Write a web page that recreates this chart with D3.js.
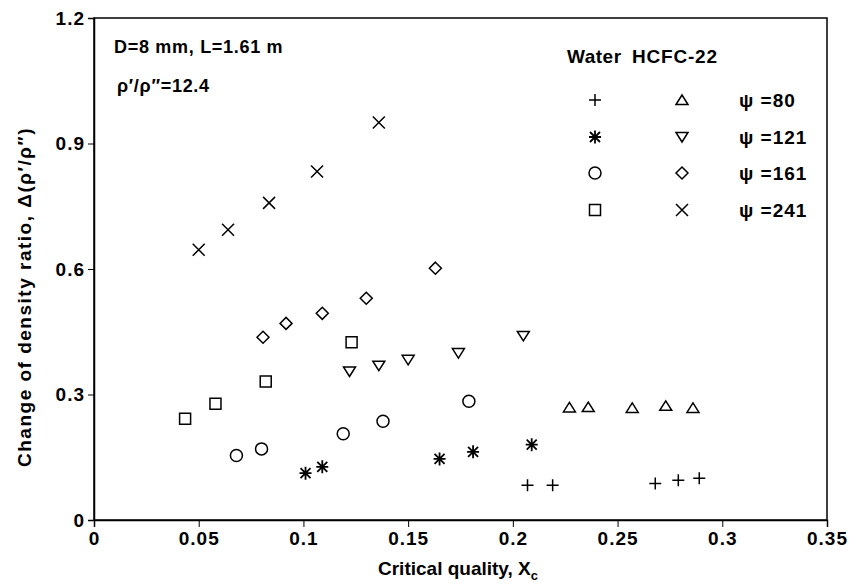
<!DOCTYPE html>
<html><head><meta charset="utf-8">
<script src="https://cdn.jsdelivr.net/npm/d3@7"></script>
<style>
body{margin:0;background:#fff;}
svg{font-family:"Liberation Sans",Arial,sans-serif;}
</style></head>
<body><svg id="c" width="850" height="586"></svg>
<script>
// ---- data ----
const xTicks = [0, 0.05, 0.1, 0.15, 0.2, 0.25, 0.3, 0.35];
const xTickLabels = ["0", "0.05", "0.1", "0.15", "0.2", "0.25", "0.3", "0.35"];
const yTicks = [0, 0.3, 0.6, 0.9, 1.2];
const yTickLabels = ["0", "0.3", "0.6", "0.9", "1.2"];

// Water
const water80X  = [0.207, 0.219, 0.268, 0.279, 0.289];
const water80Y  = [0.083, 0.083, 0.087, 0.095, 0.100];
const water121X = [0.101, 0.109, 0.165, 0.181, 0.209];
const water121Y = [0.112, 0.127, 0.146, 0.163, 0.180];
const water161X = [0.068, 0.080, 0.119, 0.138, 0.179];
const water161Y = [0.154, 0.170, 0.206, 0.236, 0.284];
const water241X = [0.0435, 0.058, 0.082, 0.123];
const water241Y = [0.242, 0.278, 0.331, 0.425];
// HCFC-22
const hcfc80X  = [0.227, 0.236, 0.257, 0.273, 0.286];
const hcfc80Y  = [0.269, 0.270, 0.268, 0.273, 0.268];
const hcfc121X = [0.122, 0.136, 0.150, 0.174, 0.205];
const hcfc121Y = [0.355, 0.369, 0.383, 0.399, 0.440];
const hcfc161X = [0.0807, 0.0917, 0.109, 0.130, 0.163];
const hcfc161Y = [0.437, 0.470, 0.494, 0.530, 0.602];
const hcfc241X = [0.050, 0.064, 0.0836, 0.1065, 0.136];
const hcfc241Y = [0.646, 0.694, 0.758, 0.833, 0.950];

const psiLabels = ["ψ =80", "ψ =121", "ψ =161", "ψ =241"];
const waterShapes = ["plus", "asterisk", "circle", "square"];
const hcfcShapes = ["triUp", "triDown", "diamond", "cross"];

const series = [
  {xs: water80X, ys: water80Y, shape: "plus"},
  {xs: water121X, ys: water121Y, shape: "asterisk"},
  {xs: water161X, ys: water161Y, shape: "circle"},
  {xs: water241X, ys: water241Y, shape: "square"},
  {xs: hcfc80X, ys: hcfc80Y, shape: "triUp"},
  {xs: hcfc121X, ys: hcfc121Y, shape: "triDown"},
  {xs: hcfc161X, ys: hcfc161Y, shape: "diamond"},
  {xs: hcfc241X, ys: hcfc241Y, shape: "cross"},
];

// ---- layout ----
const svg = d3.select("#c");
const m = {l: 94, r: 827, t: 18, b: 520};
const x = d3.scaleLinear().domain([0, 0.35]).range([m.l, m.r]);
const y = d3.scaleLinear().domain([0, 1.2]).range([m.b, m.t]);

function shapePath(s) {
  switch (s) {
    case "plus": return "M-6,0H6M0,-6V6";
    case "cross": return "M-6,-6L6,6M-6,6L6,-6";
    case "asterisk": return "M-6,0H6M0,-6.5V6.5M-5,-5L5,5M-5,5L5,-5";
    case "circle": return "M6,0A6,6 0 1,1 -6,0A6,6 0 1,1 6,0Z";
    case "square": return "M-5.5,-5.5H5.5V5.5H-5.5Z";
    case "triUp": return "M0,-5L6,4.5H-6Z";
    case "triDown": return "M0,5L6,-4.5H-6Z";
    case "diamond": return "M0,-6L6,0L0,6L-6,0Z";
  }
}
function drawShape(g, s, cx, cy) {
  g.append("path").attr("d", shapePath(s))
    .attr("transform", `translate(${cx},${cy})`)
    .attr("fill", "none").attr("stroke", "#000")
    .attr("stroke-width", s === "asterisk" ? 1.8 : 1.5);
}

// frame
svg.append("rect").attr("x", m.l).attr("y", m.t)
  .attr("width", m.r - m.l).attr("height", m.b - m.t)
  .attr("fill", "none").attr("stroke", "#000").attr("stroke-width", 1.5);

// axes
const xAxis = d3.axisBottom(x).tickValues(xTicks)
  .tickFormat((d, i) => xTickLabels[i]).tickSizeOuter(0).tickSize(7).tickPadding(5);
const gx = svg.append("g").attr("transform", `translate(0,${m.b})`).call(xAxis);
gx.select(".domain").attr("stroke-width", 1.5);
gx.selectAll("text").attr("font-size", 19).attr("font-weight", "bold")
  .attr("letter-spacing", 1).attr("fill", "#000");

const yAxis = d3.axisLeft(y).tickValues(yTicks)
  .tickFormat((d, i) => yTickLabels[i]).tickSizeOuter(0).tickSize(6).tickPadding(3);
const gy = svg.append("g").attr("transform", `translate(${m.l},0)`).call(yAxis);
gy.select(".domain").attr("stroke-width", 1.5);
gy.selectAll("text").attr("font-size", 19).attr("font-weight", "bold")
  .attr("letter-spacing", 1).attr("fill", "#000");

// axis titles
const xt = svg.append("text").attr("x", 458).attr("y", 575).attr("text-anchor", "middle")
  .attr("font-size", 19).attr("font-weight", "bold");
xt.append("tspan").text("Critical quality, X");
xt.append("tspan").attr("font-size", 13).attr("dy", 5).text("c");

svg.append("text").attr("transform", `translate(31,297) rotate(-90)`)
  .attr("text-anchor", "middle").attr("font-size", 19).attr("font-weight", "bold")
  .attr("letter-spacing", 1.5)
  .text("Change of density ratio, Δ(ρ′/ρ″)");

// annotations
svg.append("text").attr("x", 114).attr("y", 53).attr("font-size", 18).attr("font-weight", "bold")
  .attr("letter-spacing", 0.7).text("D=8 mm, L=1.61 m");
svg.append("text").attr("x", 117).attr("y", 92).attr("font-size", 18).attr("font-weight", "bold")
  .attr("letter-spacing", 0.7).text("ρ′/ρ″=12.4");

// legend
svg.append("text").attr("x", 567).attr("y", 63).attr("font-size", 19).attr("font-weight", "bold")
  .attr("letter-spacing", 0.5).text("Water");
svg.append("text").attr("x", 632).attr("y", 63).attr("font-size", 19).attr("font-weight", "bold")
  .attr("letter-spacing", 0.8).text("HCFC-22");
const rowY = [100, 137, 173, 210];
const lg = svg.append("g");
psiLabels.forEach((lab, i) => {
  drawShape(lg, waterShapes[i], 595, rowY[i]);
  drawShape(lg, hcfcShapes[i], 682, rowY[i]);
  lg.append("text").attr("x", 739).attr("y", rowY[i] + 7).attr("font-size", 19)
    .attr("font-weight", "bold").attr("letter-spacing", 1).text(lab);
});

// data
const pg = svg.append("g");
series.forEach(s => {
  s.xs.forEach((xv, i) => drawShape(pg, s.shape, x(xv), y(s.ys[i])));
});
</script></body></html>
